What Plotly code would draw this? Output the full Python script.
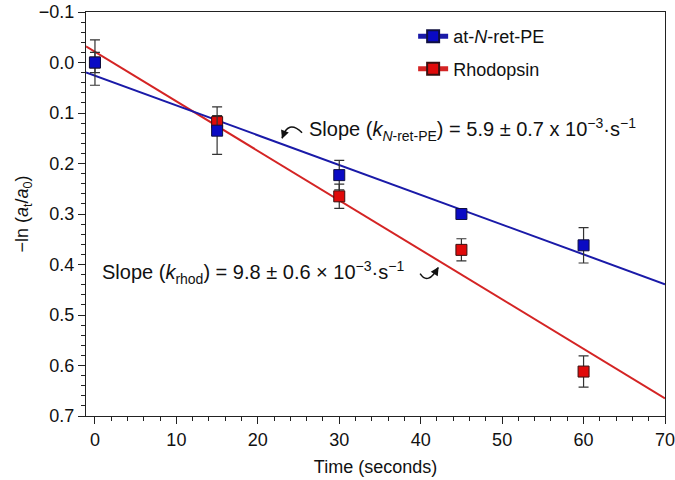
import plotly.graph_objects as go

# Data
time_s = [0, 15, 30, 45, 60]
pe_values = [0.0, 0.135, 0.223, 0.300, 0.362]
pe_errors = [0.020, 0.047, 0.029, 0.004, 0.035]
rhod_values = [0.0, 0.118, 0.265, 0.371, 0.612]
rhod_errors = [0.045, 0.013, 0.024, 0.022, 0.031]

# Linear fits (slope per second, intercept)
pe_fit = {"slope": 0.0059, "intercept": 0.026}
rhod_fit = {"slope": 0.0098, "intercept": -0.021}
fit_x = [-1.1, 70]

x_ticks = [0, 10, 20, 30, 40, 50, 60, 70]
y_ticks = [-0.1, 0.0, 0.1, 0.2, 0.3, 0.4, 0.5, 0.6, 0.7]

BLUE_LINE = "#1a1aa8"
BLUE_MARK = "#0a0ac4"
RED_LINE = "#d42424"
RED_MARK = "#e00a0a"
FONT = "Liberation Sans, Arial, Helvetica, sans-serif"
FS = 18
FS_ANN = 20

fig = go.Figure()

fig.add_trace(go.Scatter(
    x=fit_x, y=[rhod_fit["intercept"] + rhod_fit["slope"] * v for v in fit_x],
    mode="lines", line=dict(color=RED_LINE, width=2), showlegend=False, hoverinfo="skip"))
fig.add_trace(go.Scatter(
    x=fit_x, y=[pe_fit["intercept"] + pe_fit["slope"] * v for v in fit_x],
    mode="lines", line=dict(color=BLUE_LINE, width=2), showlegend=False, hoverinfo="skip"))

fig.add_trace(go.Scatter(
    x=time_s, y=rhod_values, mode="markers", showlegend=False,
    marker=dict(symbol="square", size=11, color=RED_MARK, line=dict(color="#3a1010", width=1)),
    error_y=dict(type="data", array=rhod_errors, visible=True, color="#333333", thickness=1.2, width=5)))
fig.add_trace(go.Scatter(
    x=time_s, y=pe_values, mode="markers", showlegend=False,
    marker=dict(symbol="square", size=11, color=BLUE_MARK, line=dict(color="#101040", width=1)),
    error_y=dict(type="data", array=pe_errors, visible=True, color="#333333", thickness=1.2, width=5)))

# Legend entries (line + square marker)
fig.add_trace(go.Scatter(
    x=[None], y=[None], mode="lines+markers", name="at-<i>N</i>-ret-PE", legendgroup="a",
    line=dict(color=BLUE_LINE, width=2),
    marker=dict(symbol="square", size=11, color=BLUE_MARK, line=dict(color="#101040", width=1))))
fig.add_trace(go.Scatter(
    x=[None], y=[None], mode="lines+markers", name="Rhodopsin", legendgroup="b",
    line=dict(color=RED_LINE, width=2),
    marker=dict(symbol="square", size=11, color=RED_MARK, line=dict(color="#3a1010", width=1))))

# Curved arrows
fig.add_shape(type="path", xref="x", yref="y",
              path="M 25.43,0.139 Q 23.7,0.112 22.97,0.150",
              line=dict(color="#111111", width=1.5))
fig.add_annotation(x=22.97, y=0.151, ax=3, ay=-8, xref="x", yref="y",
                   text="", showarrow=True, arrowhead=2, arrowsize=1.1, arrowwidth=1.5, arrowcolor="#111111")
fig.add_shape(type="path", xref="x", yref="y",
              path="M 39.93,0.418 Q 40.9,0.442 42.14,0.406",
              line=dict(color="#111111", width=1.5))
fig.add_annotation(x=42.2, y=0.405, ax=-5, ay=8, xref="x", yref="y",
                   text="", showarrow=True, arrowhead=2, arrowsize=1.1, arrowwidth=1.5, arrowcolor="#111111")

fig.add_annotation(x=26.0, y=0.133, xref="x", yref="y", xanchor="left", yanchor="middle",
                   showarrow=False, font=dict(size=FS_ANN, color="#111111", family=FONT),
                   text="Slope (<i>k</i><sub><i>N</i>-ret-PE</sub>) = 5.9 ± 0.7 x 10<sup>−3</sup>·s<sup>−1</sup>")
fig.add_annotation(x=0.6, y=0.415, xref="x", yref="y", xanchor="left", yanchor="middle",
                   showarrow=False, font=dict(size=FS_ANN, color="#111111", family=FONT),
                   text="Slope (<i>k</i><sub>rhod</sub>) = 9.8 ± 0.6 × 10<sup>−3</sup>·s<sup>−1</sup>")

axis_common = dict(showline=True, linecolor="#222222", linewidth=1.2, mirror=True,
                   ticks="outside", ticklen=7, tickwidth=1.2, tickcolor="#222222",
                   showgrid=False, zeroline=False, automargin=False,
                   ticklabeloverflow="allow",
                   tickfont=dict(size=FS, color="#111111", family=FONT))

fig.update_layout(
    width=675, height=480,
    margin=dict(l=86, r=10, t=12, b=64),
    paper_bgcolor="white", plot_bgcolor="white",
    font=dict(family=FONT, size=FS, color="#111111"),
    legend=dict(x=0.565, y=0.985, xanchor="left", yanchor="top", bgcolor="rgba(0,0,0,0)",
                font=dict(size=FS, family=FONT), itemsizing="constant", tracegroupgap=6),
    xaxis=dict(range=[-1.1, 70], tickvals=x_ticks,
               minor=dict(dtick=2, ticks="outside", ticklen=4, tickcolor="#222222", tickwidth=1),
               title=dict(text="Time (seconds)", font=dict(size=FS, family=FONT), standoff=11),
               **axis_common),
    yaxis=dict(range=[0.7, -0.1], tickvals=y_ticks, tickformat=".1f",
               minor=dict(dtick=0.02, ticks="outside", ticklen=4, tickcolor="#222222", tickwidth=1),
               title=dict(text="−ln (<i>a</i><sub>t</sub>/<i>a</i><sub>0</sub>)", font=dict(size=FS, family=FONT), standoff=5),
               **axis_common),
)

fig.write_html("out.html", config={"displayModeBar": False},
               post_script="document.body.style.margin='0';")
